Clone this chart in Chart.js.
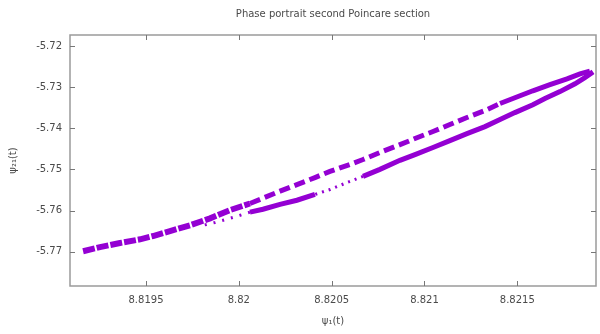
<!DOCTYPE html>
<html>
<head>
<meta charset="utf-8">
<script src="https://cdn.jsdelivr.net/npm/chart.js@4/dist/chart.umd.min.js"></script>
<style>
  html, body { margin: 0; padding: 0; background: #ffffff; }
  canvas { display: block; }
</style>
</head>
<body>
<canvas id="c" width="600" height="334"></canvas>
<script>
// Axis ticks
const xTicks = [8.8195, 8.82, 8.8205, 8.821, 8.8215];
const yTicks = [-5.77, -5.76, -5.75, -5.74, -5.73, -5.72];

// Upper branch of the section, left end to tip
const upperPsi1 = [8.819161, 8.819252, 8.81936, 8.819468, 8.819538, 8.819629, 8.819737, 8.819845,
  8.819952, 8.82006, 8.82013, 8.820222, 8.820313, 8.82041, 8.820491, 8.820599, 8.820669, 8.82076,
  8.820868, 8.820949, 8.821046, 8.821137, 8.821229, 8.821326, 8.821407, 8.821487, 8.821584,
  8.821676, 8.821768, 8.821838, 8.821891];
const upperPsi21 = [-5.7699, -5.7689, -5.7679, -5.7670, -5.7662, -5.7650, -5.7636, -5.7619,
  -5.7599, -5.7583, -5.7570, -5.7553, -5.7537, -5.7520, -5.7505, -5.7488, -5.7476, -5.7459,
  -5.7440, -5.7425, -5.7408, -5.7391, -5.7374, -5.7357, -5.7340, -5.7326, -5.7309,
  -5.7294, -5.7280, -5.7268, -5.7261];

// Lower branch, tip back towards the left end
const lowerPsi1 = [8.821908, 8.821864, 8.821811, 8.82173, 8.821649, 8.821584, 8.821487, 8.821407,
  8.821326, 8.821229, 8.821137, 8.821046, 8.820949, 8.820868, 8.82076, 8.820669, 8.820572,
  8.820491, 8.82041, 8.820313, 8.820222, 8.82013, 8.82006, 8.81999, 8.819936, 8.819872, 8.819807];
const lowerPsi21 = [-5.7263, -5.7277, -5.7292, -5.7311, -5.7328, -5.7343, -5.7362, -5.7379,
  -5.7396, -5.7413, -5.7430, -5.7447, -5.7464, -5.7478, -5.7500, -5.7517, -5.7534,
  -5.7549, -5.7561, -5.7575, -5.7585, -5.7597, -5.7604, -5.7614, -5.7621, -5.7629, -5.7636];

const X_MIN = 8.8190906, X_MAX = 8.821924;
const Y_MIN = -5.77835, Y_MAX = -5.71734;

const violet = '#9400d3';
const textColor = '#4a4a4a';
const fontFamily = '"DejaVu Sans", Verdana, sans-serif';

const pairs = (xs, ys) => xs.map((x, i) => ({ x: x, y: ys[i] }));

// Frame with inward ticks on all four sides
const framePlugin = {
  id: 'frame',
  afterDatasetsDraw(chart) {
    const { ctx, chartArea: a, scales } = chart;
    ctx.save();
    ctx.strokeStyle = '#9a9a9a';
    ctx.lineWidth = 1.5;
    ctx.strokeRect(a.left, a.top, a.right - a.left, a.bottom - a.top);
    ctx.strokeStyle = '#777777';
    ctx.lineWidth = 1;
    const len = 5;
    ctx.beginPath();
    xTicks.forEach(v => {
      const px = Math.round(scales.x.getPixelForValue(v)) + 0.5;
      ctx.moveTo(px, a.bottom); ctx.lineTo(px, a.bottom - len);
      ctx.moveTo(px, a.top); ctx.lineTo(px, a.top + len);
    });
    yTicks.forEach(v => {
      const py = Math.round(scales.y.getPixelForValue(v)) + 0.5;
      ctx.moveTo(a.left, py); ctx.lineTo(a.left + len, py);
      ctx.moveTo(a.right, py); ctx.lineTo(a.right - len, py);
    });
    ctx.stroke();
    ctx.restore();
  }
};

new Chart(document.getElementById('c'), {
  type: 'scatter',
  data: {
    datasets: [
      {
        label: 'upper',
        data: pairs(upperPsi1, upperPsi21),
        showLine: true,
        borderColor: violet,
        backgroundColor: violet,
        pointRadius: 0,
        borderWidth: 5,
        segment: {
          borderDash: c => {
            if (c.p1.parsed.x <= 8.82006) return [12, 2];
            if (c.p0.parsed.x < 8.82133) return [11, 5];
            return [];
          },
          borderWidth: c => (c.p1.parsed.x <= 8.82006 ? 6 : 5)
        }
      },
      {
        label: 'lower',
        data: pairs(lowerPsi1, lowerPsi21),
        showLine: true,
        borderColor: violet,
        backgroundColor: violet,
        pointRadius: 0,
        borderWidth: 5,
        segment: {
          borderDash: c => {
            if (c.p0.parsed.x <= 8.82006) return [2, 7];
            if (c.p0.parsed.x <= 8.82067 && c.p1.parsed.x >= 8.8204) return [2, 5];
            return [];
          },
          borderWidth: c => {
            if (c.p0.parsed.x <= 8.82006) return 3;
            if (c.p0.parsed.x <= 8.82067 && c.p1.parsed.x >= 8.8204) return 3;
            return 5;
          }
        }
      }
    ]
  },
  options: {
    responsive: false,
    animation: false,
    devicePixelRatio: 1,
    layout: { padding: { left: 0, right: 4, top: 0, bottom: 0 } },
    plugins: {
      legend: { display: false },
      tooltip: { enabled: false },
      title: {
        display: true,
        text: 'Phase portrait second Poincare section',
        color: textColor,
        fullSize: false,
        font: { family: fontFamily, size: 10, weight: 'normal' },
        padding: { top: 8, bottom: 15 }
      }
    },
    scales: {
      x: {
        type: 'linear',
        min: X_MIN,
        max: X_MAX,
        afterBuildTicks: s => { s.ticks = xTicks.map(v => ({ value: v })); },
        afterFit: s => { s.height = 48; },
        grid: { display: false, drawTicks: false },
        border: { display: false },
        ticks: {
          color: textColor,
          padding: 8,
          maxRotation: 0,
          font: { family: fontFamily, size: 10 },
          callback: v => String(v)
        },
        title: {
          display: true,
          text: 'ψ₁(t)',
          color: textColor,
          font: { family: fontFamily, size: 10 },
          padding: { top: 0, bottom: 7 }
        }
      },
      y: {
        type: 'linear',
        min: Y_MIN,
        max: Y_MAX,
        afterBuildTicks: s => { s.ticks = yTicks.map(v => ({ value: v })); },
        afterFit: s => { s.width = 70; },
        grid: { display: false, drawTicks: false },
        border: { display: false },
        ticks: {
          color: textColor,
          padding: 8,
          font: { family: fontFamily, size: 10 },
          callback: v => v.toFixed(2)
        },
        title: {
          display: true,
          text: 'ψ₂₁(t)',
          color: textColor,
          font: { family: fontFamily, size: 10 },
          padding: { top: 7, bottom: 0 }
        }
      }
    }
  },
  plugins: [framePlugin]
});
</script>
</body>
</html>
